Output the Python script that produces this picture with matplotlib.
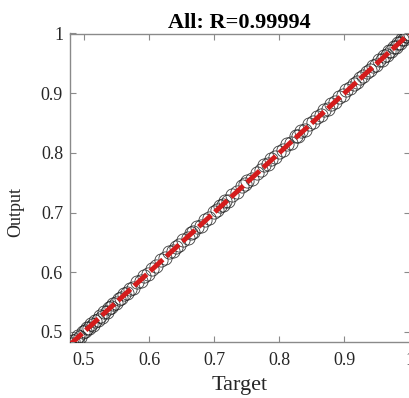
import matplotlib
matplotlib.use("Agg")
import matplotlib.pyplot as plt
from matplotlib.ticker import FormatStrFormatter

# regression data (target vs network output)
targets = [0.481, 0.483, 0.487, 0.491, 0.494, 0.498, 0.502, 0.505, 0.508, 0.511,
           0.514, 0.517, 0.521, 0.524, 0.527, 0.531, 0.535, 0.538, 0.542, 0.545,
           0.549, 0.553, 0.557, 0.561, 0.566, 0.570, 0.575, 0.581, 0.587, 0.592,
           0.598, 0.604, 0.611, 0.618, 0.625, 0.631, 0.637, 0.641, 0.646, 0.652,
           0.659, 0.664, 0.668, 0.673, 0.679, 0.686, 0.692, 0.699, 0.705, 0.709,
           0.713, 0.717, 0.721, 0.728, 0.735, 0.742, 0.748, 0.751, 0.758, 0.765,
           0.772, 0.777, 0.782, 0.787, 0.794, 0.799, 0.806, 0.812, 0.818, 0.826,
           0.829, 0.834, 0.840, 0.846, 0.852, 0.858, 0.864, 0.869, 0.875, 0.880,
           0.886, 0.892, 0.898, 0.903, 0.909, 0.914, 0.919, 0.924, 0.929, 0.934,
           0.939, 0.944, 0.948, 0.953, 0.957, 0.961, 0.965, 0.969, 0.972, 0.976,
           0.979, 0.982, 0.985, 0.988, 0.991, 0.994, 0.996, 0.998, 1.000]
outputs = [0.479, 0.485, 0.486, 0.493, 0.492, 0.499, 0.501, 0.507, 0.506, 0.513,
           0.512, 0.519, 0.520, 0.526, 0.525, 0.533, 0.534, 0.540, 0.541, 0.547,
           0.548, 0.555, 0.556, 0.563, 0.565, 0.572, 0.574, 0.583, 0.586, 0.594,
           0.597, 0.606, 0.610, 0.620, 0.624, 0.633, 0.636, 0.643, 0.645, 0.654,
           0.658, 0.666, 0.667, 0.675, 0.678, 0.688, 0.691, 0.701, 0.704, 0.711,
           0.712, 0.719, 0.720, 0.730, 0.734, 0.744, 0.747, 0.753, 0.757, 0.767,
           0.771, 0.779, 0.781, 0.789, 0.793, 0.801, 0.805, 0.814, 0.817, 0.828,
           0.828, 0.836, 0.839, 0.848, 0.851, 0.860, 0.863, 0.871, 0.874, 0.882,
           0.885, 0.894, 0.897, 0.905, 0.908, 0.916, 0.918, 0.926, 0.928, 0.936,
           0.938, 0.946, 0.947, 0.955, 0.956, 0.963, 0.964, 0.971, 0.971, 0.978,
           0.978, 0.984, 0.984, 0.990, 0.990, 0.996, 0.995, 0.999, 0.999]
fit_x = [0.478, 1.0]
fit_y = [0.478, 1.0]
ticks = [0.5, 0.6, 0.7, 0.8, 0.9, 1.0]
r_value = 0.99994

plt.rcParams['font.family'] = ['Liberation Serif', 'DejaVu Serif']

fig = plt.figure(figsize=(4.09, 3.98), dpi=100)
ax = fig.add_axes([70 / 409, 1 - 342 / 398, 339.5 / 409, 308.5 / 398])

ax.plot(targets, outputs, 'o', mfc='none', mec='#1a1a1a', ms=9.5, mew=0.6,
        alpha=0.85, zorder=3)
ax.plot(fit_x, fit_y, color='#d41c1c', lw=3.5, dashes=(3.5, 1), zorder=4)

ax.set_xlim(0.4785, 1.0)
ax.set_ylim(0.483, 1.0)
ax.set_xticks(ticks)
ax.set_yticks(ticks)
ax.xaxis.set_major_formatter(FormatStrFormatter('%g'))
ax.yaxis.set_major_formatter(FormatStrFormatter('%g'))

for s in ax.spines.values():
    s.set_color('#8a8a8a')
    s.set_linewidth(1.0)
ax.tick_params(direction='in', top=True, right=True, length=4, width=0.8,
               color='#8a8a8a', labelcolor='#262626', labelsize=13)
ax.tick_params(axis='x', pad=7)
ax.tick_params(axis='y', pad=5)

ax.set_xlabel('Target', fontsize=16, color='#262626', labelpad=5)
ax.set_ylabel('Output', fontsize=13, color='#262626')
ax.yaxis.set_label_coords(-0.135, 0.42)
ax.set_title('All: R=%.5f' % r_value, fontsize=16, fontweight='bold', pad=4)

fig.savefig('out.png', dpi=100)
